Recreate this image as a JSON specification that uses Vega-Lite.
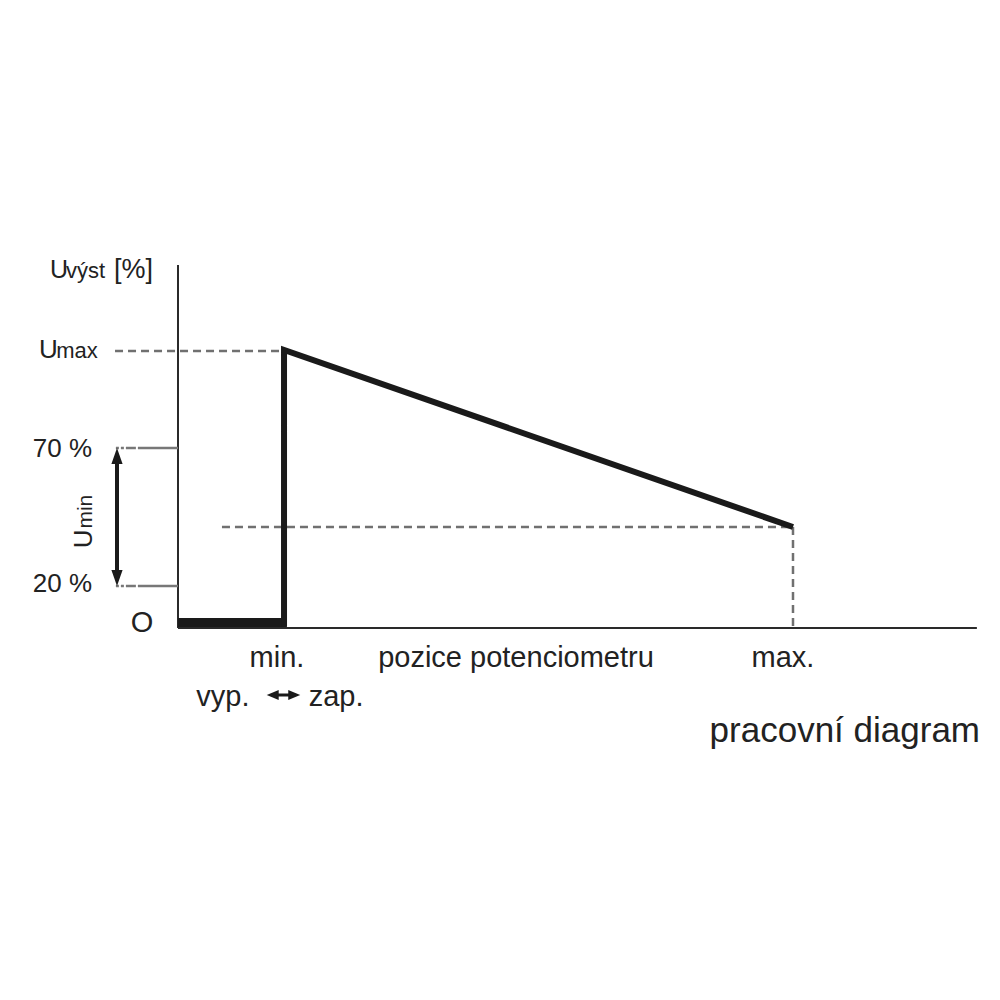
{
  "$schema": "https://vega.github.io/schema/vega-lite/v6.json",
  "width": 1000,
  "height": 1000,
  "autosize": {"type": "fit", "contains": "padding"},
  "padding": 0,
  "background": "white",
  "view": {"stroke": null},
  "config": {"text": {"font": "Liberation Sans", "color": "#222222"}},
  "encoding": {
    "x": {"field": "x", "type": "quantitative", "axis": null, "scale": {"domain": [-28.943, 133.659], "nice": false, "zero": false}},
    "y": {"field": "y", "type": "quantitative", "axis": null, "scale": {"domain": [-134.3, 226.71], "nice": false, "zero": false}}
  },
  "layer": [
    {
      "data": {"values": [
        {"x": 0, "y": 131.0, "x2": 0, "y2": 0},
        {"x": 0, "y": 0, "x2": 129.9, "y2": 0}
      ]},
      "mark": {"type": "rule", "stroke": "#2a2a2a", "strokeWidth": 2},
      "encoding": {"x2": {"field": "x2"}, "y2": {"field": "y2"}}
    },
    {
      "data": {"values": [
        {"x": -10.24, "y": 100, "x2": 17.24, "y2": 100},
        {"x": 7.15, "y": 36.46, "x2": 100, "y2": 36.46},
        {"x": 100, "y": 36.46, "x2": 100, "y2": 0}
      ]},
      "mark": {"type": "rule", "stroke": "#707070", "strokeWidth": 2.5, "strokeDash": [8, 5]},
      "encoding": {"x2": {"field": "x2"}, "y2": {"field": "y2"}}
    },
    {
      "data": {"values": [
        {"x": -10.1, "y": 64.98, "x2": 0, "y2": 64.98},
        {"x": -10.1, "y": 15.16, "x2": 0, "y2": 15.16}
      ]},
      "mark": {"type": "rule", "stroke": "#777777", "strokeWidth": 2.5, "strokeDash": [3, 2, 3, 2, 10, 2, 60, 1]},
      "encoding": {"x2": {"field": "x2"}, "y2": {"field": "y2"}}
    },
    {
      "data": {"values": [
        {"x": -9.92, "y": 62.5, "x2": -9.92, "y2": 17.6}
      ]},
      "mark": {"type": "rule", "stroke": "#1a1a1a", "strokeWidth": 4},
      "encoding": {"x2": {"field": "x2"}, "y2": {"field": "y2"}}
    },
    {
      "data": {"values": [{"x": -9.92, "y": 62.09}]},
      "mark": {"type": "point", "filled": true, "color": "#1a1a1a", "opacity": 1, "shape": "M0,-1L0.7,1L-0.7,1Z", "size": 256}
    },
    {
      "data": {"values": [{"x": -9.92, "y": 18.05}]},
      "mark": {"type": "point", "filled": true, "color": "#1a1a1a", "opacity": 1, "shape": "M0,1L0.7,-1L-0.7,-1Z", "size": 256}
    },
    {
      "data": {"values": [
        {"x": 15.5, "y": -24.19, "x2": 18.8, "y2": -24.19}
      ]},
      "mark": {"type": "rule", "stroke": "#1a1a1a", "strokeWidth": 3},
      "encoding": {"x2": {"field": "x2"}, "y2": {"field": "y2"}}
    },
    {
      "data": {"values": [{"x": 15.4, "y": -24.19}]},
      "mark": {"type": "point", "filled": true, "color": "#1a1a1a", "opacity": 1, "shape": "M-1,0L1,-0.85L1,0.85Z", "size": 144}
    },
    {
      "data": {"values": [{"x": 18.9, "y": -24.19}]},
      "mark": {"type": "point", "filled": true, "color": "#1a1a1a", "opacity": 1, "shape": "M1,0L-1,-0.85L-1,0.85Z", "size": 144}
    },
    {
      "data": {"values": [
        {"x": 0, "y": 1.99, "x2": 17.7, "y2": 1.99}
      ]},
      "mark": {"type": "rule", "stroke": "#1a1a1a", "strokeWidth": 9},
      "encoding": {"x2": {"field": "x2"}, "y2": {"field": "y2"}}
    },
    {
      "data": {"values": [
        {"x": 17.24, "y": 0.5, "o": 1},
        {"x": 17.24, "y": 100.4, "o": 2},
        {"x": 100, "y": 36.46, "o": 3}
      ]},
      "mark": {"type": "line", "stroke": "#1a1a1a", "strokeWidth": 6, "strokeJoin": "miter", "strokeCap": "butt"},
      "encoding": {"order": {"field": "o"}}
    },
    {
      "data": {"values": [
        {"x": -20.8, "y": 126.35, "t": "U", "s": 25},
        {"x": -18.2, "y": 126.35, "t": "výst", "s": 22},
        {"x": -10.4, "y": 126.35, "t": "[%]", "s": 27},
        {"x": -22.6, "y": 97.47, "t": "U", "s": 26},
        {"x": -19.8, "y": 97.47, "t": "max", "s": 22}
      ]},
      "mark": {"type": "text", "align": "left", "baseline": "alphabetic"},
      "encoding": {"text": {"field": "t"}, "size": {"field": "s", "type": "quantitative", "scale": null}}
    },
    {
      "data": {"values": [
        {"x": -13.98, "y": 61.73, "t": "70 %", "s": 26},
        {"x": -13.98, "y": 13.0, "t": "20 %", "s": 26},
        {"x": 130.41, "y": -41.16, "t": "pracovní diagram", "s": 35}
      ]},
      "mark": {"type": "text", "align": "right", "baseline": "alphabetic"},
      "encoding": {"text": {"field": "t"}, "size": {"field": "s", "type": "quantitative", "scale": null}}
    },
    {
      "data": {"values": [
        {"x": -5.85, "y": -1.44, "t": "O", "s": 29},
        {"x": 16.1, "y": -14.08, "t": "min.", "s": 29},
        {"x": 54.96, "y": -14.08, "t": "pozice potenciometru", "s": 29},
        {"x": 98.37, "y": -14.08, "t": "max.", "s": 29},
        {"x": 7.3, "y": -28.16, "t": "vyp.", "s": 29},
        {"x": 25.7, "y": -28.16, "t": "zap.", "s": 29}
      ]},
      "mark": {"type": "text", "align": "center", "baseline": "alphabetic"},
      "encoding": {"text": {"field": "t"}, "size": {"field": "s", "type": "quantitative", "scale": null}}
    },
    {
      "data": {"values": [
        {"x": -13.98, "y": 32.2, "t": "U", "s": 26},
        {"x": -13.98, "y": 42.0, "t": "min", "s": 21}
      ]},
      "mark": {"type": "text", "align": "center", "baseline": "alphabetic", "angle": 270},
      "encoding": {"text": {"field": "t"}, "size": {"field": "s", "type": "quantitative", "scale": null}}
    }
  ]
}
